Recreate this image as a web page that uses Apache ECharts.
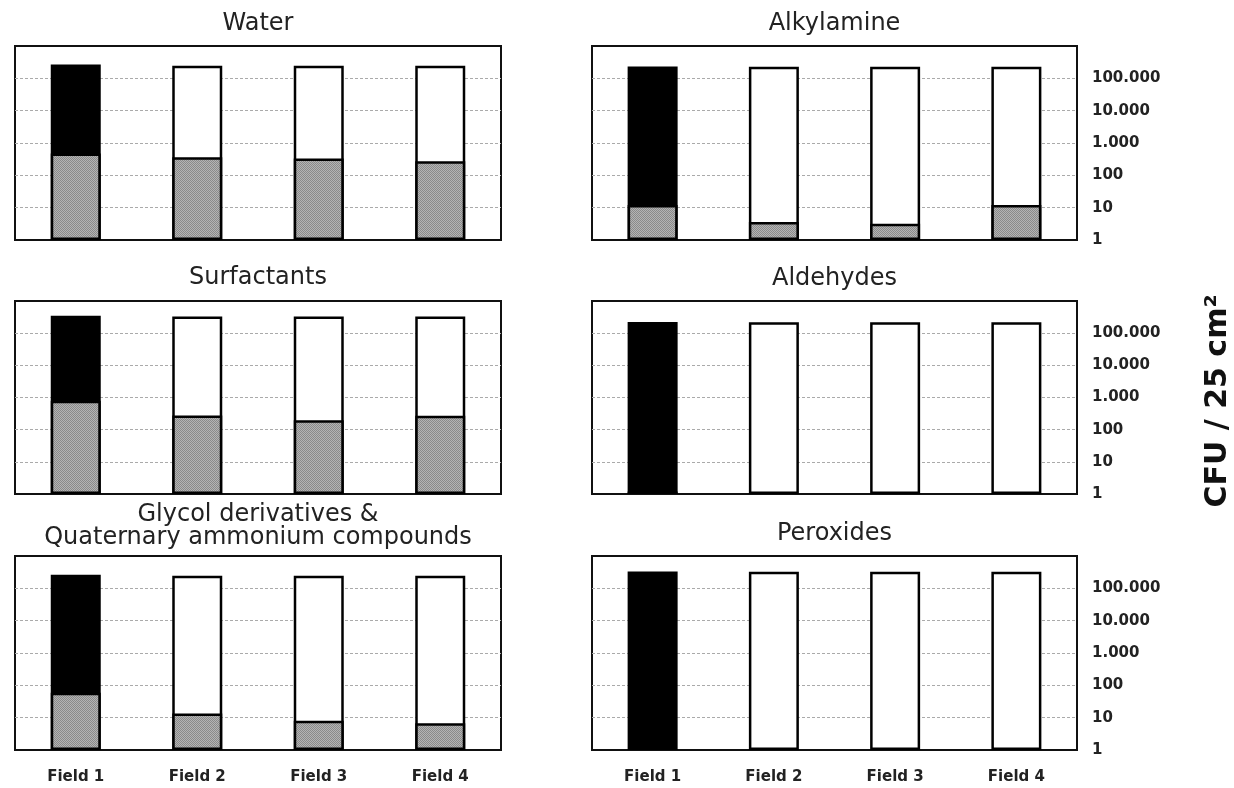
<!DOCTYPE html>
<html>
<head>
<meta charset="utf-8">
<script src="https://cdn.jsdelivr.net/npm/echarts@6/dist/echarts.min.js"></script>
<style>
html,body{margin:0;padding:0;background:#fff;}
#chart{width:1234px;height:788px;}
</style>
</head>
<body>
<div id="chart"></div>
<script>
// ---- data ----
const categories = ['Field 1', 'Field 2', 'Field 3', 'Field 4'];
const panelTitles = ['Water', 'Alkylamine', 'Surfactants', 'Aldehydes', 'Glycol derivatives &\nQuaternary ammonium compounds', 'Peroxides'];
const yTickLabels = ['1', '10', '100', '1.000', '10.000', '100.000'];
const yAxisTitle = 'CFU / 25 cm\u00B2';

// total counts (full bar heights)
const waterTotal      = [270000, 247000, 247000, 247000];
const alkylamineTotal = [232000, 228000, 228000, 228000];
const surfactantTotal = [350000, 330000, 330000, 330000];
const aldehydeTotal   = [224000, 220000, 220000, 220000];
const glycolTotal     = [265000, 245000, 245000, 245000];
const peroxideTotal   = [330000, 325000, 325000, 325000];

// residual counts (grey part)
const waterResidual      = [470, 365, 330, 275];
const alkylamineResidual = [12, 3.6, 3.2, 12];
const surfactantResidual = [790, 275, 195, 270];
const aldehydeResidual   = [1.2, null, null, null];
const glycolResidual     = [59, 13.5, 8, 6.7];
const peroxideResidual   = [null, null, null, null];

const totals = [waterTotal, alkylamineTotal, surfactantTotal, aldehydeTotal, glycolTotal, peroxideTotal];
const residuals = [waterResidual, alkylamineResidual, surfactantResidual, aldehydeResidual, glycolResidual, peroxideResidual];

// ---- layout ----
const colLeft = [15, 592];
const colWidth = [486, 485];
const rowTop = [46, 301, 556];
const rowHeight = [194, 193, 194];
const titleY = [[24], [24], [278], [279], [515, 538], [534]];

// stipple pattern for grey
const pc = document.createElement('canvas');
pc.width = 2; pc.height = 2;
const pctx = pc.getContext('2d');
pctx.fillStyle = '#b4b4b4'; pctx.fillRect(0, 0, 2, 2);
pctx.fillStyle = '#8a8a8a'; pctx.fillRect(0, 0, 1, 1); pctx.fillRect(1, 1, 1, 1);
const greyFill = { image: pc, repeat: 'repeat' };

const fmt = v => {
  const e = Math.round(Math.log10(v));
  return e >= 0 && e < yTickLabels.length ? yTickLabels[e] : '';
};

const grids = [], xAxes = [], yAxes = [], series = [], graphics = [];
for (let i = 0; i < 6; i++) {
  const col = i % 2, row = Math.floor(i / 2);
  grids.push({
    left: colLeft[col], top: rowTop[row], width: colWidth[col], height: rowHeight[row],
    show: true, borderColor: '#111', borderWidth: 2, backgroundColor: '#fff', containLabel: false
  });
  xAxes.push({
    type: 'category', gridIndex: i, data: categories,
    axisLine: { show: false }, axisTick: { show: false },
    axisLabel: {
      show: row === 2, margin: 20, fontFamily: 'DejaVu Sans', fontWeight: 'bold',
      fontSize: 15, color: '#222'
    }
  });
  yAxes.push({
    type: 'log', logBase: 10, gridIndex: i, min: 1, max: 1000000, splitNumber: 6,
    position: col === 1 ? 'right' : 'left',
    axisLine: { show: false }, axisTick: { show: false },
    splitLine: {
      show: true, showMinLine: false, showMaxLine: false,
      lineStyle: { color: '#aaaaaa', width: 1, type: [3, 2] }
    },
    axisLabel: {
      show: col === 1, margin: 15, formatter: fmt, fontFamily: 'DejaVu Sans', fontWeight: 'bold',
      fontSize: 15, color: '#222', padding: [0, 0, 9, 0], align: 'left'
    }
  });
  series.push({
    type: 'bar', xAxisIndex: i, yAxisIndex: i, barWidth: 50, barGap: '-100%', z: 2,
    data: totals[i].map((v, j) => ({ value: v, itemStyle: { color: j === 0 ? '#000' : '#fff' } })),
    itemStyle: { borderColor: '#000', borderWidth: 2.5 },
    emphasis: { disabled: true }, animation: false
  });
  series.push({
    type: 'bar', xAxisIndex: i, yAxisIndex: i, barWidth: 50, barGap: '-100%', z: 3,
    data: residuals[i].map(v => v == null ? '-' : v),
    itemStyle: { color: greyFill, borderColor: '#000', borderWidth: 2.5 },
    emphasis: { disabled: true }, animation: false
  });
  const lines = panelTitles[i].split('\n');
  lines.forEach((t, k) => {
    graphics.push({
      type: 'text',
      x: colLeft[col] + colWidth[col] / 2, y: titleY[i][k],
      style: {
        text: t, fontFamily: 'DejaVu Sans', fontSize: 24, fill: '#222',
        textAlign: 'center', textVerticalAlign: 'middle'
      }
    });
  });
}
graphics.push({
  type: 'text', x: 1218, y: 401, rotation: Math.PI / 2,
  style: {
    text: yAxisTitle, fontFamily: 'DejaVu Sans', fontWeight: 'bold', fontSize: 30, fill: '#111',
    textAlign: 'center', textVerticalAlign: 'middle'
  }
});

const chart = echarts.init(document.getElementById('chart'), null, { renderer: 'canvas' });
chart.setOption({
  backgroundColor: '#fff',
  animation: false,
  grid: grids, xAxis: xAxes, yAxis: yAxes, series: series,
  graphic: graphics
});
</script>
</body>
</html>
